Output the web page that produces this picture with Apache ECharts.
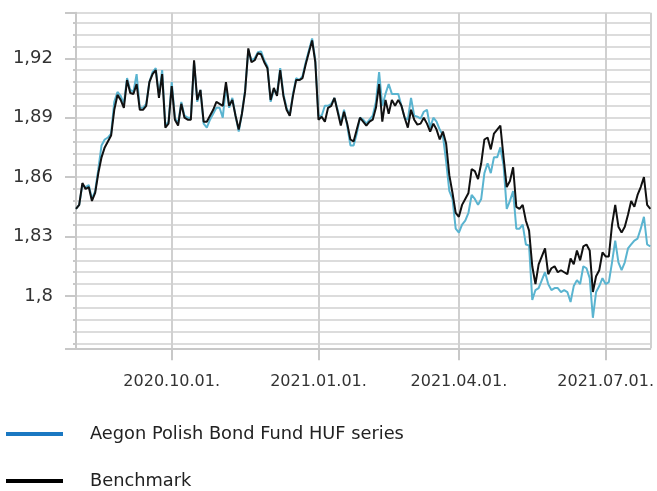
<!DOCTYPE html>
<html>
<head>
<meta charset="utf-8">
<script src="https://cdn.jsdelivr.net/npm/echarts@6/dist/echarts.min.js"></script>
<style>
html,body{margin:0;padding:0;background:#fff;}
#chart{width:657px;height:491px;}
</style>
</head>
<body>
<div id="chart"></div>
<script>
// Tick labels shown on the category (date) axis
const tickLabels = ['2020.10.01.', '2021.01.01.', '2021.04.01.', '2021.07.01.'];
// Anchor dates and their sample positions used to build the date categories
const anchorDates = ['2020-08-03', '2020-10-01', '2021-01-01', '2021-04-01', '2021-07-01', '2021-07-30'];
const anchorIdx = [0, 30, 76, 120, 166, 180];

// Aegon Polish Bond Fund HUF series
const fundValues = [
1.844,1.846,1.856,1.855,1.856,1.849,1.853,1.864,1.876,1.879,
1.880,1.882,1.898,1.903,1.901,1.897,1.910,1.904,1.903,1.912,
1.895,1.895,1.897,1.908,1.913,1.915,1.901,1.914,1.886,1.888,
1.908,1.890,1.887,1.898,1.891,1.890,1.890,1.918,1.898,1.904,
1.887,1.885,1.889,1.892,1.895,1.895,1.890,1.906,1.895,1.900,
1.891,1.883,1.892,1.904,1.924,1.919,1.920,1.923,1.9235,1.919,
1.916,1.898,1.904,1.902,1.915,1.902,1.895,1.891,1.902,1.910,
1.909,1.911,1.918,1.924,1.930,1.919,1.891,1.891,1.896,1.896,
1.897,1.900,1.894,1.887,1.894,1.886,1.876,1.876,1.882,1.890,
1.889,1.887,1.889,1.891,1.898,1.913,1.896,1.902,1.907,1.902,
1.902,1.902,1.896,1.890,1.889,1.900,1.891,1.8905,1.8895,1.893,
1.894,1.885,1.890,1.888,1.884,1.881,1.868,1.853,1.849,1.834,
1.832,1.836,1.838,1.842,1.851,1.849,1.846,1.849,1.862,1.867,
1.862,1.870,1.870,1.875,1.866,1.844,1.848,1.853,1.834,1.834,
1.836,1.826,1.8255,1.798,1.803,1.804,1.808,1.812,1.806,1.803,
1.804,1.804,1.802,1.803,1.802,1.797,1.805,1.808,1.806,1.815,
1.814,1.809,1.789,1.802,1.805,1.809,1.806,1.807,1.817,1.828,
1.817,1.813,1.817,1.824,1.826,1.828,1.829,1.834,1.840,1.826,
1.825
];

// Benchmark
const benchValues = [
1.844,1.846,1.857,1.854,1.855,1.848,1.852,1.862,1.870,1.875,
1.878,1.881,1.894,1.9015,1.899,1.895,1.909,1.9025,1.902,1.907,
1.894,1.894,1.896,1.908,1.912,1.914,1.900,1.912,1.885,1.887,
1.906,1.889,1.886,1.897,1.890,1.889,1.889,1.919,1.899,1.904,
1.888,1.888,1.891,1.894,1.898,1.897,1.896,1.908,1.896,1.899,
1.891,1.884,1.892,1.903,1.925,1.918,1.919,1.9225,1.922,1.918,
1.915,1.899,1.905,1.901,1.914,1.901,1.894,1.891,1.901,1.909,
1.909,1.910,1.917,1.923,1.929,1.918,1.889,1.8905,1.888,1.895,
1.896,1.900,1.893,1.886,1.893,1.887,1.879,1.878,1.884,1.890,
1.888,1.886,1.888,1.889,1.895,1.907,1.888,1.899,1.892,1.899,
1.896,1.899,1.896,1.890,1.885,1.894,1.889,1.8865,1.887,1.890,
1.887,1.883,1.887,1.884,1.879,1.883,1.877,1.861,1.852,1.842,
1.840,1.846,1.849,1.852,1.864,1.863,1.859,1.867,1.879,1.880,
1.874,1.882,1.884,1.886,1.870,1.855,1.858,1.865,1.845,1.844,
1.846,1.838,1.833,1.815,1.806,1.816,1.820,1.824,1.811,1.814,
1.815,1.812,1.813,1.812,1.811,1.819,1.816,1.823,1.818,1.825,
1.826,1.823,1.802,1.810,1.813,1.822,1.820,1.820,1.836,1.846,
1.835,1.832,1.835,1.841,1.848,1.845,1.851,1.855,1.860,1.846,
1.844
];

const seriesNames = ['Aegon Polish Bond Fund HUF series', 'Benchmark'];

function fmtDate(ms) {
  const d = new Date(ms);
  const p = n => (n < 10 ? '0' : '') + n;
  return d.getUTCFullYear() + '.' + p(d.getUTCMonth() + 1) + '.' + p(d.getUTCDate()) + '.';
}
const categories = [];
for (let k = 0; k < anchorIdx.length - 1; k++) {
  const a = Date.parse(anchorDates[k] + 'T00:00:00Z');
  const b = Date.parse(anchorDates[k + 1] + 'T00:00:00Z');
  const n = anchorIdx[k + 1] - anchorIdx[k];
  for (let j = 0; j < n; j++) {
    const day = Math.round(j * (b - a) / n / 86400000);
    categories.push(fmtDate(a + day * 86400000));
  }
}
categories.push(fmtDate(Date.parse(anchorDates[anchorDates.length - 1] + 'T00:00:00Z')));

const gridColor = '#d0d0d0';
const axisColor = '#c8c8c8';
const font = 'DejaVu Sans';

const chart = echarts.init(document.getElementById('chart'), null, {renderer: 'canvas'});
chart.setOption({
  animation: false,
  textStyle: {fontFamily: font},
  grid: {left: 76, right: 2, top: 12.7, bottom: 142.7, containLabel: false},
  legend: {
    orient: 'vertical',
    left: 6,
    top: 425,
    height: 120,
    padding: 0,
    icon: 'rect',
    itemWidth: 57,
    itemHeight: 4,
    itemGap: 29,
    textStyle: {fontFamily: font, fontSize: 17.8, color: '#222', padding: [0, 0, 0, 22]},
    data: [
      {name: seriesNames[0], itemStyle: {color: '#1a78c2'}},
      {name: seriesNames[1], itemStyle: {color: '#000000'}}
    ]
  },
  xAxis: {
    type: 'category',
    boundaryGap: false,
    data: categories,
    axisLine: {show: true, lineStyle: {color: axisColor, width: 2}},
    axisTick: {
      show: true, length: 12, inside: false,
      interval: (i, v) => tickLabels.indexOf(v) >= 0,
      lineStyle: {color: axisColor, width: 2}
    },
    axisLabel: {
      show: true, margin: 26, fontSize: 16, color: '#333', fontFamily: font,
      interval: (i, v) => tickLabels.indexOf(v) >= 0
    },
    splitLine: {
      show: true,
      interval: (i, v) => tickLabels.indexOf(v) >= 0 || i === categories.length - 1,
      lineStyle: {color: gridColor, width: 2}
    }
  },
  yAxis: {
    type: 'value',
    min: 1.7736,
    max: 1.943,
    splitNumber: 5,
    minInterval: 0.03,
    maxInterval: 0.03,
    axisLine: {show: true, lineStyle: {color: axisColor, width: 2}},
    axisTick: {show: true, length: 11, lineStyle: {color: axisColor, width: 2}},
    minorTick: {show: true, splitNumber: 5, length: 3, lineStyle: {color: axisColor, width: 2}},
    axisLabel: {
      show: true, margin: 23, fontSize: 18, color: '#333', fontFamily: font,
      showMinLabel: false, showMaxLabel: false,
      formatter: v => String(Math.round(v * 1000) / 1000).replace('.', ',')
    },
    splitLine: {show: true, lineStyle: {color: gridColor, width: 1.6}},
    minorSplitLine: {show: true, lineStyle: {color: gridColor, width: 1.6}}
  },
  series: [
    {
      name: seriesNames[0], type: 'line', data: fundValues, symbol: 'none',
      lineStyle: {color: '#5ab4d0', width: 2}, itemStyle: {color: '#5ab4d0'}
    },
    {
      name: seriesNames[1], type: 'line', data: benchValues, symbol: 'none',
      lineStyle: {color: '#111111', width: 2}, itemStyle: {color: '#111111'}
    }
  ]
});
</script>
</body>
</html>
